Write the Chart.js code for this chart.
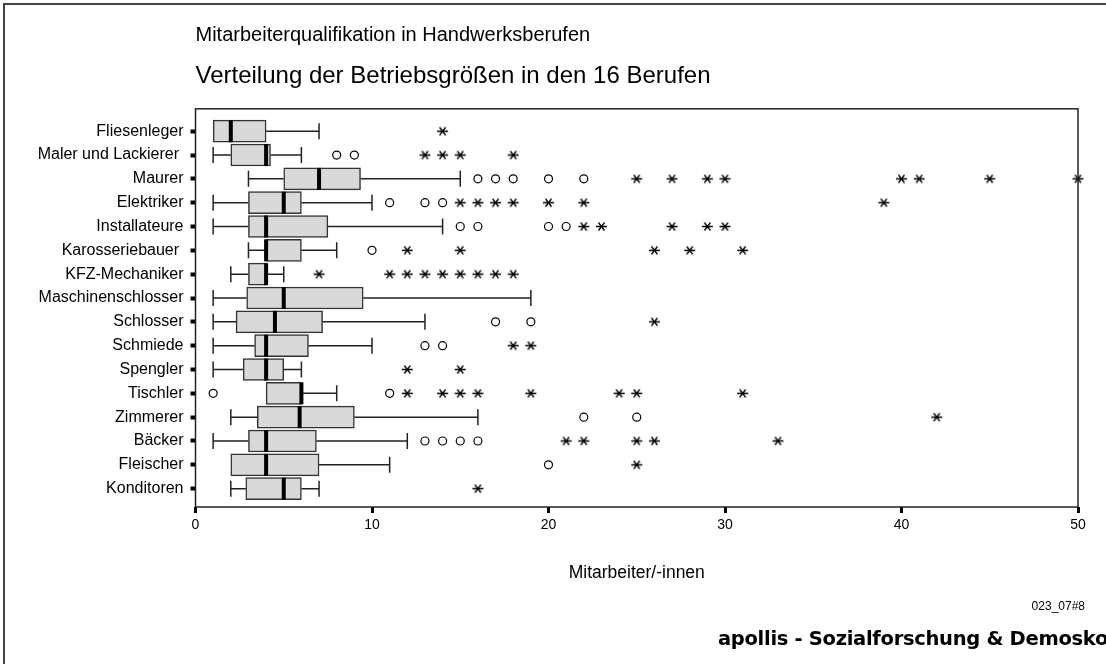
<!DOCTYPE html>
<html>
<head>
<meta charset="utf-8">
<script src="https://cdn.jsdelivr.net/npm/chart.js@4.4.1/dist/chart.umd.min.js"></script>
<style>
  html, body { margin: 0; padding: 0; background: #fff; }
  #wrap { width: 1106px; height: 664px; position: relative; }
</style>
</head>
<body>
<div id="wrap"><canvas id="myChart" width="1106" height="664"></canvas></div>
<script>

// Berufe (von oben nach unten)
const categories = ['Fliesenleger', 'Maler und Lackierer ', 'Maurer', 'Elektriker', 'Installateure',
    'Karosseriebauer ', 'KFZ-Mechaniker', 'Maschinenschlosser', 'Schlosser', 'Schmiede',
    'Spengler', 'Tischler', 'Zimmerer', 'Bäcker', 'Fleischer', 'Konditoren'];

const whiskerLow  = [1, 1, 3, 1, 1, 3, 2, 1, 1, 1, 1, 4, 2, 1, 2, 2];
const q1          = [1, 2, 5, 3, 3, 4, 3, 2.9, 2.3, 3.35, 2.7, 4, 3.5, 3, 2, 2.85];
const medians     = [2, 4, 7, 5, 4, 4, 4, 5, 4.5, 4, 4, 6, 5.9, 4, 4, 5];
const q3          = [4, 4.25, 9.35, 6, 7.5, 6, 4, 9.5, 7.2, 6.4, 5, 6, 9, 6.85, 7, 6];
const whiskerHigh = [7, 6, 15, 10, 14, 8, 5, 19, 13, 10, 6, 8, 16, 12, 11, 7];

// Ausreisser (Kreis) und Extremwerte (Stern)
const circleOutliers = [[], [8, 9], [16, 17, 18, 20, 22], [11, 13, 14], [15, 16, 20, 21], [10], [], [],
    [17, 19], [13, 14], [], [1, 11], [22, 25], [13, 14, 15, 16], [20], []];
const starOutliers = [[14], [13, 14, 15, 18], [25, 27, 29, 30, 40, 41, 45, 50], [15, 16, 17, 18, 20, 22, 39],
    [22, 23, 27, 29, 30], [12, 15, 26, 28, 31], [7, 11, 12, 13, 14, 15, 16, 17, 18], [],
    [26], [18, 19], [12, 15], [12, 14, 15, 16, 19, 24, 25, 31], [42], [21, 22, 25, 26, 33], [25], [16]];

const xTicks = [0, 10, 20, 30, 40, 50];

Chart.defaults.font.family = "'Liberation Sans', Arial, sans-serif";
Chart.defaults.color = '#000';

function f_stern(){
    let c = document.createElement('canvas');
    c.width = 13; c.height = 13;
    let g = c.getContext('2d');
    g.strokeStyle = '#000';
    g.lineWidth = 1.3;
    g.beginPath();
    g.moveTo(1, 6.5); g.lineTo(12, 6.5);
    g.moveTo(3.5, 2.5); g.lineTo(9.5, 10.5);
    g.moveTo(9.5, 2.5); g.lineTo(3.5, 10.5);
    g.stroke();
    return c;
}

let boxData = categories.map((c, i) => ({x: [q1[i], q3[i]], y: i}));
let circleData = [];
let starData = [];
categories.forEach((c, i) => {
    circleOutliers[i].forEach(v => circleData.push({x: v, y: i}));
    starOutliers[i].forEach(v => starData.push({x: v, y: i}));
});

// Whisker, Median, Rahmen und Fusszeilen
const boxPlugin = {
    id: 'boxPlugin',
    beforeDraw(chart){
        let ctx = chart.ctx;
        ctx.save();
        ctx.fillStyle = '#fff';
        ctx.fillRect(0, 0, chart.width, chart.height);
        ctx.strokeStyle = '#444';
        ctx.lineWidth = 2;
        ctx.beginPath();
        ctx.moveTo(4, chart.height);
        ctx.lineTo(4, 4);
        ctx.lineTo(chart.width, 4);
        ctx.stroke();
        ctx.restore();
    },
    beforeDatasetsDraw(chart){
        let ctx = chart.ctx;
        let xs = chart.scales.x, ys = chart.scales.y;
        ctx.save();
        ctx.strokeStyle = '#222';
        ctx.lineWidth = 1.5;
        categories.forEach((c, i) => {
            let y = ys.getPixelForValue(i);
            let segs = [[whiskerLow[i], q1[i]], [q3[i], whiskerHigh[i]]];
            segs.forEach(s => {
                if (s[0] === s[1]) return;
                let a = xs.getPixelForValue(s[0]);
                let b = xs.getPixelForValue(s[1]);
                let end = (s[0] === whiskerLow[i]) ? a : b;
                ctx.beginPath();
                ctx.moveTo(a, y); ctx.lineTo(b, y);
                ctx.moveTo(end, y - 8); ctx.lineTo(end, y + 8);
                ctx.stroke();
            });
        });
        ctx.restore();
    },
    afterDatasetsDraw(chart){
        let ctx = chart.ctx;
        let xs = chart.scales.x, ys = chart.scales.y;
        let area = chart.chartArea;
        ctx.save();
        ctx.fillStyle = '#000';
        categories.forEach((c, i) => {
            let y = ys.getPixelForValue(i);
            let m = xs.getPixelForValue(medians[i]);
            ctx.fillRect(m - 2, y - 11, 4, 22);
        });
        ctx.strokeStyle = '#222';
        ctx.lineWidth = 1.5;
        ctx.strokeRect(area.left, area.top, area.right - area.left, area.bottom - area.top);

        ctx.textBaseline = 'middle';
        ctx.textAlign = 'center';
        ctx.font = "17.5px 'Liberation Sans', Arial, sans-serif";
        ctx.fillText('Mitarbeiter/-innen', (area.left + area.right) / 2, 573);
        ctx.textAlign = 'right';
        ctx.font = "12px 'Liberation Sans', Arial, sans-serif";
        ctx.fillText('023_07#8', 1085, 607);
        ctx.textAlign = 'left';
        ctx.font = "bold 19.5px 'DejaVu Sans', sans-serif";
        ctx.letterSpacing = '-0.3px';
        ctx.fillText('apollis - Sozialforschung & Demosko', 718, 640);
        ctx.restore();
    }
};

let myChart = document.getElementById('myChart');
let grafico = new Chart(myChart, {
    type: 'bar',
    data: {
        datasets: [
            {
                type: 'scatter',
                data: circleData,
                pointStyle: 'circle',
                pointRadius: 4,
                pointBorderWidth: 1.2,
                pointBorderColor: '#000',
                pointBackgroundColor: '#fff',
                clip: false,
                order: 0
            },
            {
                type: 'scatter',
                data: starData,
                pointStyle: f_stern(),
                pointRadius: 6,
                clip: false,
                order: 0
            },
            {
                type: 'bar',
                data: boxData,
                backgroundColor: '#d9d9d9',
                borderColor: '#333',
                borderWidth: 1.5,
                borderSkipped: false,
                barThickness: 22,
                order: 1
            }
        ]
    },
    options: {
        indexAxis: 'y',
        responsive: false,
        animation: false,
        events: [],
        layout: { padding: { left: 0, right: 28, top: 0, bottom: 117 } },
        plugins: {
            legend: { display: false },
            tooltip: { enabled: false },
            title: {
                display: true,
                text: 'Mitarbeiterqualifikation in Handwerksberufen',
                align: 'start',
                fullSize: false,
                font: { size: 20, weight: 'normal' },
                padding: { top: 23, bottom: 15 }
            },
            subtitle: {
                display: true,
                text: 'Verteilung der Betriebsgrößen in den 16 Berufen',
                align: 'start',
                fullSize: false,
                color: '#000',
                font: { size: 24, weight: 'normal' },
                padding: { top: 0, bottom: 18 }
            }
        },
        scales: {
            x: {
                type: 'linear',
                min: 0,
                max: 50,
                afterBuildTicks: (scale) => { scale.ticks = xTicks.map(v => ({value: v})); },
                afterFit: (scale) => { scale.height = 40; },
                ticks: { font: { size: 14 }, padding: 4, maxRotation: 0 },
                grid: { drawOnChartArea: false, tickLength: 6, tickWidth: 3, tickColor: '#000' },
                border: { display: false }
            },
            y: {
                type: 'linear',
                reverse: true,
                offset: false,
                min: -0.94,
                max: 15.77,
                afterBuildTicks: (scale) => { scale.ticks = categories.map((c, i) => ({value: i})); },
                afterFit: (scale) => { scale.width = 195.5; },
                ticks: {
                    font: { size: 16 },
                    padding: 7,
                    callback: (v) => categories[v]
                },
                grid: { offset: false, drawOnChartArea: false, tickLength: 5, tickWidth: 4, tickColor: '#000' },
                border: { display: false }
            }
        }
    },
    plugins: [boxPlugin]
});

</script>
</body>
</html>
